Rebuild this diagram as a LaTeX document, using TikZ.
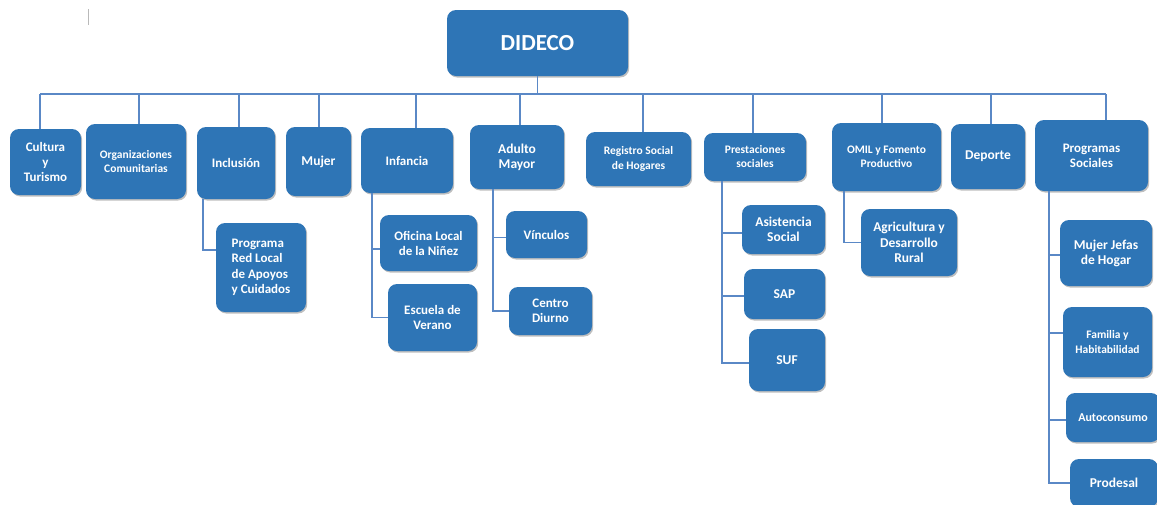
\documentclass[tikz,border=0pt]{standalone}
\usepackage{fontspec}
\setmainfont{Carlito}
\usetikzlibrary{shadows}
\definecolor{boxblue}{HTML}{2E75B6}
\definecolor{linkblue}{HTML}{5A88C6}
\begin{document}
\begin{tikzpicture}[x=1pt,y=-1pt,
  box/.style={fill=boxblue, rounded corners=9pt, text=white, align=center, inner sep=0pt,
    font=\bfseries\fontsize{13}{15}\selectfont,
    drop shadow={shadow xshift=1.2pt, shadow yshift=-1.5pt, opacity=0.25, fill=black}},
  fa/.style={font=\bfseries\fontsize{13.5}{15}\selectfont},
  fb/.style={font=\bfseries\fontsize{11.5}{14.5}\selectfont},
  fc/.style={font=\bfseries\fontsize{11.5}{14}\selectfont},
  link/.style={draw=linkblue, line width=1.3pt}]
\clip (0,0) rectangle (1157,504);
\fill[white] (0,0) rectangle (1157,504);
\draw[gray!55, line width=0.8pt] (88,9) -- (88,25);

% top
\node[box, minimum width=181pt, minimum height=66pt, font=\bfseries\fontsize{23}{26}\selectfont] (dideco) at (537.5,43) {DIDECO};

\node[box, minimum width=71pt, minimum height=66pt] (cult) at (45.5,162) {Cultura\\y\\Turismo};
\node[box, fc, minimum width=100pt, minimum height=75pt] (org) at (136,161.5) {Organizaciones\\Comunitarias};
\node[box, minimum width=78pt, minimum height=72pt] (incl) at (236,163) {Inclusión};
\node[box, fa, minimum width=65pt, minimum height=69pt] (mujer) at (318.5,161.5) {Mujer};
\node[box, minimum width=92pt, minimum height=65pt] (inf) at (407,160.5) {Infancia};
\node[box, fa, minimum width=94pt, minimum height=64pt] (adulto) at (517,157) {Adulto\\Mayor};
\node[box, fb, minimum width=105pt, minimum height=54pt] (reg) at (638.5,159) {Registro Social\\de Hogares};
\node[box, fc, minimum width=102pt, minimum height=48pt] (prest) at (755,157) {Prestaciones\\sociales};
\node[box, fc, minimum width=109pt, minimum height=68pt] (omil) at (886.5,157) {OMIL y Fomento\\Productivo};
\node[box, fa, minimum width=74pt, minimum height=65pt] (dep) at (988,156.5) {Deporte};
\node[box, minimum width=113pt, minimum height=71pt] (prog) at (1091.5,155.5) {Programas\\Sociales};

% children
\node[box, align=left, font=\bfseries\fontsize{13}{15.5}\selectfont, minimum width=90pt, minimum height=89pt] (red) at (261,267.5) {Programa\\Red Local\\de Apoyos\\y Cuidados};
\node[box, minimum width=97pt, minimum height=56pt] (ofi) at (428.5,243) {Oficina Local\\de la Niñez};
\node[box, minimum width=89pt, minimum height=67pt] (esc) at (432.5,317.5) {Escuela de\\Verano};
\node[box, minimum width=81pt, minimum height=47pt] (vin) at (546.5,234.5) {Vínculos};
\node[box, minimum width=83pt, minimum height=48pt] (cen) at (550.5,311) {Centro\\Diurno};
\node[box, fa, minimum width=83pt, minimum height=49pt] (asis) at (783.5,229.5) {Asistencia\\Social};
\node[box, fa, minimum width=81pt, minimum height=50pt] (sap) at (784.5,294) {SAP};
\node[box, fa, minimum width=76pt, minimum height=62pt] (suf) at (787,360) {SUF};
\node[box, fa, font=\bfseries\fontsize{13.5}{15.5}\selectfont, minimum width=96pt, minimum height=67pt] (agri) at (909,242.5) {Agricultura y\\Desarrollo\\Rural};
\node[box, fa, minimum width=92pt, minimum height=66pt] (mjh) at (1106,253) {Mujer Jefas\\de Hogar};
\node[box, fb, minimum width=89pt, minimum height=70pt] (fam) at (1107.5,342) {Familia y\\Habitabilidad};
\node[box, font=\bfseries\fontsize{12}{14}\selectfont, minimum width=94pt, minimum height=49pt] (auto) at (1113,417.5) {Autoconsumo};
\node[box, fa, minimum width=88pt, minimum height=48pt] (prod) at (1114,483) {Prodesal};

% bus
\coordinate (busL) at (40,94);
\coordinate (busR) at (1106,94);
\draw[link] (busL) -- (busR);
\draw[link] (dideco.south) -- (dideco.south |- busL);
\foreach \n/\s in {cult/-5.5, org/3, incl/3, mujer/0.5, inf/9, adulto/3, reg/4.5, prest/-2, omil/-4.5, dep/3, prog/14.5}
  \draw[link] ([xshift=\s pt]\n.north) -- ([xshift=\s pt]\n.north |- busL);

% child connectors
\draw[link] ([xshift=-33pt]incl.south) |- ([yshift=17.5pt]red.west);
\draw[link] ([xshift=-35pt]inf.south) |- ([yshift=-6pt]ofi.west);
\draw[link] ([xshift=-35pt]inf.south) |- (esc.west);
\draw[link] ([xshift=-24pt]adulto.south) |- ([yshift=-3pt]vin.west);
\draw[link] ([xshift=-24pt]adulto.south) |- (cen.west);
\draw[link] ([xshift=-33pt]prest.south) |- ([yshift=-3.5pt]asis.west);
\draw[link] ([xshift=-33pt]prest.south) |- ([yshift=-2pt]sap.west);
\draw[link] ([xshift=-33pt]prest.south) |- ([yshift=-3pt]suf.west);
\draw[link] ([xshift=-42.5pt]omil.south) |- (agri.west);
\draw[link] ([xshift=-42.5pt]prog.south) |- ([yshift=-2pt]mjh.west);
\draw[link] ([xshift=-42.5pt]prog.south) |- ([yshift=9pt]fam.west);
\draw[link] ([xshift=-42.5pt]prog.south) |- ([yshift=-2.5pt]auto.west);
\draw[link] ([xshift=-42.5pt]prog.south) |- (prod.west);
\end{tikzpicture}
\end{document}
